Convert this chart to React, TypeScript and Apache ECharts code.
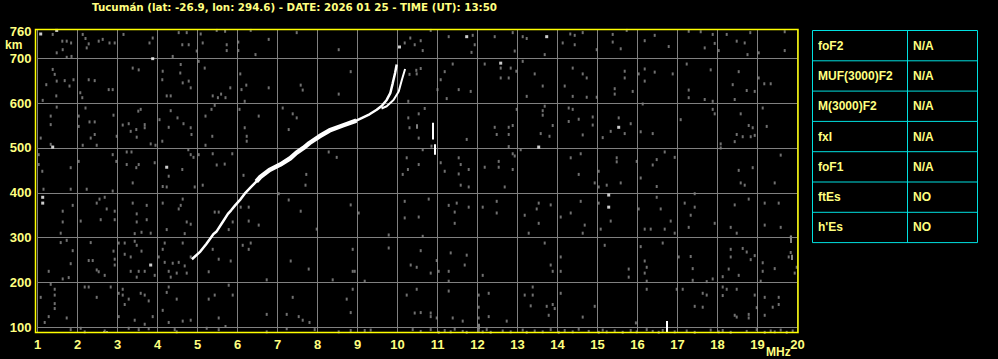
import React, { useEffect, useRef } from "react";
import * as echarts from "echarts";

const TITLE = "Tucumán (lat: -26.9, lon: 294.6) - DATE: 2026 01 25 - TIME (UT): 13:50";
const heightTicks = [100, 200, 300, 400, 500, 600, 700, 760];
const heightGrid = [100, 200, 300, 400, 500, 600, 700];
const tableParams = ["foF2", "MUF(3000)F2", "M(3000)F2", "fxI", "foF1", "ftEs", "h'Es"];
const tableValues = ["N/A", "N/A", "N/A", "N/A", "N/A", "NO", "NO"];

// main ionogram trace [MHz, km]
const traceMain: number[][] = [
  [4.86, 252], [5.07, 269], [5.22, 286], [5.40, 308], [5.47, 313], [5.63, 335], [5.76, 353],
  [5.84, 361], [5.94, 372], [6.08, 386], [6.18, 398], [6.34, 413], [6.47, 425], [6.57, 435],
  [6.80, 451], [7.07, 463], [7.32, 477], [7.47, 489], [7.65, 500], [7.80, 511], [8.05, 526],
  [8.30, 539], [8.63, 550], [8.97, 561], [9.30, 575], [9.48, 585], [9.61, 594], [9.73, 607],
  [9.82, 622], [9.88, 644], [9.94, 667], [9.98, 686],
];
const traceBranch: number[][] = [
  [9.60, 588], [9.73, 593], [9.90, 607], [10.03, 626], [10.11, 652], [10.19, 676],
];
const whiteDots: number[][] = [
  [1.08, 754], [1.48, 762], [10.05, 725], [3.88, 699], [1.38, 502], [4.23, 457], [11.73, 748],
  [13.73, 748], [12.58, 689], [15.53, 546], [13.53, 502], [1.13, 390], [1.13, 377], [3.83, 239],
  [15.28, 395], [15.28, 368],
];
const whiteSegments: number[][][] = [
  [[10.88, 519], [10.88, 556]],
  [[10.93, 485], [10.93, 508]],
  [[16.73, 88], [16.73, 114]],
];
const grayDashes: number[][][] = [
  [[12.02, 96], [12.02, 108]], [[19.83, 288], [19.83, 305]], [[19.85, 250], [19.85, 262]],
  [[10.48, 543], [10.48, 553]], [[2.65, 88], [2.65, 92]], [[2.72, 88], [2.72, 92]],
];
const noise: number[][] = [
  [1.38, 753], [1.62, 738], [1.73, 738], [1.84, 734], [1.48, 712], [1.63, 719], [1.73, 702], [1.85, 704],
  [2.13, 753], [2.20, 744], [2.28, 732], [2.23, 723], [2.53, 738], [2.63, 742], [2.80, 734], [2.93, 734],
  [3.15, 753], [3.88, 745], [3.80, 734], [4.38, 704], [4.53, 757], [4.73, 757], [4.62, 730], [4.78, 730],
  [4.98, 716], [5.08, 754], [5.13, 734], [5.48, 762], [5.69, 760], [5.73, 730], [5.73, 717], [6.02, 736],
  [6.02, 717], [6.33, 762], [6.45, 708], [6.78, 742], [7.48, 757], [8.53, 719], [10.32, 745], [10.43, 730],
  [10.18, 734],
  [1.38, 675], [1.43, 664], [1.48, 649], [1.68, 650], [1.90, 652], [2.28, 652], [2.43, 650], [1.22, 641],
  [1.80, 638], [1.13, 606], [1.47, 616], [2.12, 612], [2.07, 623], [2.78, 630], [2.88, 630], [3.38, 678],
  [3.53, 674], [4.13, 671], [4.12, 652], [4.57, 667], [4.63, 645], [4.78, 649], [4.83, 634], [4.23, 616],
  [4.33, 616], [4.58, 686], [5.03, 693], [5.18, 678], [5.38, 616], [5.51, 612], [5.59, 620], [5.70, 612],
  [5.82, 634], [6.07, 665], [6.22, 640], [6.10, 630], [6.18, 604], [6.78, 634], [7.58, 640], [7.63, 629],
  [8.53, 620], [8.83, 670], [10.30, 664], [10.47, 673], [10.27, 604],
  [1.33, 571], [1.33, 552], [1.08, 522], [1.48, 591], [2.03, 571], [2.03, 548], [2.20, 589], [2.30, 558],
  [2.43, 558], [2.33, 522], [2.43, 530], [2.90, 573], [2.98, 526], [3.13, 551], [3.28, 554], [3.33, 537],
  [3.47, 541], [3.48, 524], [3.52, 582], [3.68, 552], [3.68, 545], [3.58, 586], [4.05, 563], [4.12, 515],
  [4.28, 546], [4.33, 583], [4.50, 567], [4.65, 554], [4.83, 545], [4.85, 530], [5.20, 571], [5.35, 586],
  [5.43, 595], [5.37, 526], [6.05, 586], [6.18, 545], [6.23, 526], [6.23, 515], [6.53, 571], [7.13, 589],
  [7.38, 576], [7.48, 567], [7.28, 541], [10.27, 567], [10.30, 545],
  [1.03, 485], [1.03, 463], [1.12, 448], [1.33, 508], [1.83, 456], [2.03, 470], [2.13, 506], [2.48, 506],
  [2.88, 485], [2.97, 470], [3.23, 491], [3.35, 491], [3.23, 463], [3.47, 456], [3.53, 463], [3.83, 509],
  [3.95, 506], [3.93, 467], [4.28, 437], [4.62, 452], [4.77, 496], [4.83, 485], [4.90, 479], [5.03, 485],
  [5.20, 506], [5.38, 487], [5.48, 462], [5.68, 464], [5.87, 487], [6.15, 439], [7.72, 441], [8.28, 491],
  [8.48, 479], [10.23, 478], [10.26, 452], [10.13, 441],
  [10.83, 762], [10.58, 739], [10.63, 717], [11.28, 748], [11.88, 751], [11.93, 730], [11.85, 713],
  [12.43, 748], [12.88, 757], [12.93, 716], [13.13, 748], [13.23, 744], [13.68, 708], [14.13, 734],
  [14.32, 754], [14.43, 751], [14.43, 730], [14.63, 757], [14.98, 719], [15.38, 753], [15.38, 736],
  [15.73, 762], [15.58, 721], [16.18, 739], [16.43, 751], [16.78, 726], [17.28, 760], [17.58, 759],
  [17.68, 723], [17.88, 753], [17.93, 733], [18.03, 717], [18.23, 753], [18.48, 738], [18.68, 734],
  [18.75, 708], [18.82, 757], [19.03, 712], [19.68, 759], [19.68, 717],
  [10.58, 677], [10.48, 665], [11.18, 670], [11.08, 652], [11.38, 687], [11.53, 630], [11.00, 630],
  [11.23, 610], [11.83, 626], [12.18, 687], [12.58, 678], [12.58, 656], [12.78, 656], [12.83, 678],
  [12.97, 671], [13.13, 693], [13.43, 665], [13.63, 638], [13.23, 615], [14.18, 638], [14.38, 678],
  [14.63, 665], [14.73, 656], [14.38, 615], [14.73, 613], [14.98, 613], [15.43, 632], [15.43, 620],
  [15.68, 671], [15.68, 656], [15.88, 626], [16.03, 665], [16.18, 676], [16.18, 649], [16.43, 669],
  [16.88, 665], [17.23, 687], [17.28, 629], [17.28, 612], [17.83, 674], [17.68, 608], [17.88, 604],
  [18.53, 670], [18.38, 641], [18.73, 628], [18.93, 626], [19.03, 656], [19.33, 643], [19.17, 643],
  [18.43, 608],
  [10.68, 588], [10.53, 576], [10.53, 522], [10.85, 504], [11.73, 519], [12.43, 546], [12.48, 530],
  [12.78, 546], [12.78, 530], [12.88, 550], [12.98, 586], [13.63, 583], [13.68, 593], [13.63, 573],
  [13.88, 550], [13.58, 532], [13.80, 526], [14.28, 589], [14.38, 586], [14.53, 564], [14.28, 559],
  [14.63, 529], [14.88, 569], [14.88, 551], [15.13, 523], [15.33, 537], [15.53, 567], [15.83, 554],
  [15.68, 532], [16.08, 536], [16.38, 532], [16.13, 598], [17.08, 563], [17.88, 586], [17.93, 576],
  [18.58, 576], [18.78, 550], [18.88, 545], [18.48, 530], [18.43, 514], [18.63, 525], [18.83, 525],
  [18.93, 528], [19.23, 548], [19.13, 589],
  [10.53, 463], [10.63, 496], [11.08, 467], [11.18, 448], [11.53, 478], [11.58, 463], [11.78, 452],
  [11.53, 442], [12.18, 457], [12.53, 470], [12.53, 457], [12.78, 503], [12.88, 487], [12.93, 482],
  [13.08, 496], [12.88, 452], [14.33, 478], [14.58, 487], [14.53, 441], [15.03, 448], [15.48, 478],
  [15.48, 469], [15.98, 470], [16.38, 462], [16.48, 474], [16.68, 491], [16.93, 479], [16.08, 433],
  [18.08, 509], [18.08, 500], [18.53, 450], [18.88, 456], [19.58, 484],
  [1.15, 408], [1.83, 408], [2.23, 408], [2.88, 404], [3.38, 422], [4.13, 414], [4.23, 413], [4.93, 413],
  [5.13, 417], [7.70, 417], [2.55, 386], [2.68, 390], [2.48, 377], [1.88, 372], [1.63, 359], [1.63, 335],
  [2.73, 364], [2.93, 359], [2.93, 340], [2.58, 340], [2.08, 337], [1.58, 310], [3.38, 377], [3.48, 353],
  [3.48, 335], [3.73, 340], [3.73, 372], [3.60, 312], [3.43, 309], [3.83, 310], [4.13, 377], [4.63, 386],
  [4.58, 372], [4.53, 364], [4.23, 318], [4.68, 309], [4.73, 335], [4.83, 330], [5.43, 357], [5.53, 357],
  [5.88, 335], [5.78, 318], [6.08, 368], [6.28, 368], [6.28, 337], [6.53, 328], [7.28, 384], [7.58, 359],
  [7.03, 398], [7.98, 319], [8.83, 373], [9.03, 355], [9.78, 306], [10.18, 381], [10.18, 344],
  [1.73, 294], [1.58, 289], [1.88, 271], [2.33, 289], [2.28, 249], [2.38, 249], [1.83, 242], [1.28, 225],
  [1.63, 208], [1.78, 211], [2.48, 228], [2.53, 224], [2.68, 216], [2.90, 270], [2.93, 252], [2.93, 239],
  [3.03, 288], [3.18, 288], [3.18, 263], [3.33, 257], [3.43, 292], [3.48, 283], [3.60, 270], [3.53, 225],
  [3.68, 225], [3.33, 225], [3.48, 212], [3.93, 216], [4.03, 257], [4.18, 288], [4.13, 274], [4.18, 245],
  [4.28, 225], [4.33, 212], [4.38, 243], [4.53, 245], [4.48, 221], [4.63, 288], [4.68, 237], [4.73, 221],
  [4.83, 257], [5.28, 224], [5.38, 274], [5.53, 252], [5.83, 248], [6.13, 283], [6.28, 274], [6.33, 288],
  [6.73, 206], [7.33, 248], [7.78, 230], [8.38, 206], [8.88, 274], [8.88, 225], [8.93, 225], [9.18, 203],
  [9.78, 277], [10.33, 239], [10.48, 234],
  [1.33, 196], [1.43, 185], [1.08, 167], [1.43, 172], [1.43, 153], [1.43, 142], [1.28, 124], [1.18, 111],
  [1.73, 121], [2.18, 190], [2.28, 190], [2.48, 167], [2.83, 190], [3.13, 185], [3.13, 172], [3.18, 151],
  [3.03, 176], [3.28, 163], [3.58, 176], [3.68, 172], [3.78, 159], [3.43, 116], [3.03, 124], [3.68, 107],
  [3.88, 124], [4.13, 138], [4.23, 178], [4.28, 190], [4.48, 163], [4.28, 111], [4.63, 114], [4.83, 116],
  [5.28, 163], [5.43, 172], [5.53, 121], [5.78, 194], [5.88, 172], [5.70, 102], [6.73, 129], [7.23, 129],
  [7.38, 167], [7.53, 124], [7.63, 116], [7.80, 111], [8.73, 163], [8.83, 133], [8.88, 185], [10.23, 172],
  [10.43, 132], [10.48, 185],
  [1.83, 95], [2.08, 98], [2.68, 92], [2.18, 90], [3.28, 98], [3.53, 95], [3.78, 97], [4.43, 95],
  [4.48, 90], [5.23, 98], [5.53, 95], [6.73, 90], [7.23, 97], [7.93, 95], [8.53, 90], [8.83, 93],
  [9.18, 93], [9.33, 94], [10.38, 95],
  [11.58, 417], [11.78, 413], [12.68, 413], [14.93, 422], [15.03, 413], [15.23, 417], [15.58, 422],
  [16.48, 414], [18.58, 422], [18.68, 417], [19.43, 422], [10.78, 386], [11.28, 372], [11.48, 377],
  [11.78, 368], [11.43, 357], [11.43, 332], [12.13, 368], [12.48, 381], [12.48, 355], [13.18, 350],
  [13.53, 377], [13.48, 364], [13.83, 373], [13.53, 332], [13.28, 310], [14.08, 346], [14.33, 355],
  [14.58, 381], [14.68, 328], [14.63, 310], [15.03, 377], [15.08, 319], [15.33, 337], [16.03, 364],
  [16.18, 319], [16.33, 319], [16.48, 390], [16.58, 364], [16.68, 319], [16.83, 337], [16.93, 310],
  [17.18, 377], [17.33, 350], [17.43, 368], [17.43, 398], [17.28, 323], [17.93, 332], [18.33, 323],
  [18.43, 373], [18.48, 310], [18.78, 386], [19.18, 377], [19.18, 328], [19.53, 377], [19.58, 323],
  [19.83, 301], [10.63, 303], [10.53, 346],
  [10.58, 271], [10.83, 221], [10.98, 249], [11.03, 225], [11.28, 225], [11.28, 203], [11.33, 266],
  [11.73, 261], [11.68, 239], [12.13, 216], [13.68, 288], [13.83, 239], [13.88, 225], [14.08, 257],
  [14.08, 225], [15.18, 283], [15.78, 230], [15.78, 212], [16.08, 280], [16.18, 248], [16.23, 234],
  [16.18, 221], [16.23, 203], [16.63, 288], [17.03, 257], [17.33, 258], [17.38, 231], [17.38, 205],
  [17.73, 202], [17.88, 208], [18.33, 274], [18.33, 257], [18.28, 230], [18.13, 213], [18.53, 216],
  [18.63, 276], [18.73, 268], [18.83, 251], [18.93, 260], [19.13, 244], [19.13, 225], [19.08, 203],
  [19.43, 231], [19.78, 257], [19.83, 267], [19.93, 221], [19.98, 234],
  [11.28, 181], [12.03, 172], [12.28, 176], [12.03, 145], [12.03, 121], [12.28, 124], [12.73, 114],
  [13.18, 172], [13.38, 190], [13.38, 172], [13.33, 148], [13.73, 147], [13.88, 151], [13.93, 142],
  [13.78, 127], [14.08, 176], [14.63, 123], [14.93, 147], [15.96, 110], [16.23, 185], [16.98, 185],
  [17.13, 185], [17.43, 147], [17.63, 145], [17.63, 176], [17.73, 172], [18.13, 190], [18.13, 171],
  [18.23, 185], [18.48, 185], [18.43, 127], [18.48, 123], [18.78, 129], [18.78, 121], [18.93, 172],
  [19.18, 167], [19.38, 145], [19.53, 167], [19.53, 151], [19.18, 127], [18.98, 144], [10.83, 132],
  [10.83, 124], [10.98, 121], [11.38, 121], [11.63, 114], [10.58, 133],
  [10.58, 91], [10.83, 95], [11.03, 89], [11.18, 93], [11.33, 90], [11.43, 96], [11.63, 91], [11.73, 89],
  [12.03, 93], [12.13, 90], [12.23, 95], [12.33, 89], [12.63, 92], [12.83, 90], [13.13, 94], [13.23, 89],
  [13.43, 92], [13.63, 90], [13.83, 95], [14.03, 89], [14.18, 93], [14.38, 90], [14.53, 96], [14.78, 91],
  [15.03, 89], [15.13, 94], [15.23, 90], [15.43, 92], [15.63, 89], [15.83, 93], [15.98, 90], [16.23, 95],
  [16.38, 91], [16.53, 89], [16.63, 93], [16.93, 90], [17.23, 92], [17.43, 89], [17.83, 94], [18.03, 90],
  [18.13, 93], [18.33, 89], [18.73, 91], [18.98, 95], [19.18, 89], [19.33, 92], [19.43, 90], [19.58, 94],
  [19.73, 89], [19.88, 92],
];

const PALE = "#ffff80";
const GRAY = "#808080";

export default function App() {
  const ref = useRef<HTMLDivElement>(null);
  useEffect(() => {
    if (!ref.current) return;
    const chart = echarts.init(ref.current, undefined, { renderer: "svg" });
    const tLeft = 812.5, tRight = 977.5, tTop = 30.5, rowH = 30.3, tDiv = 907.5;
    const tableEls: any[] = [
      { type: "rect", shape: { x: tLeft, y: tTop, width: tRight - tLeft, height: rowH * tableParams.length }, style: { fill: "none", stroke: "#00e0e0", lineWidth: 1 } },
      { type: "line", shape: { x1: tDiv, y1: tTop, x2: tDiv, y2: tTop + rowH * tableParams.length }, style: { stroke: "#00e0e0", lineWidth: 1 } },
    ];
    tableParams.forEach((p, i) => {
      if (i > 0) tableEls.push({ type: "line", shape: { x1: tLeft, y1: tTop + rowH * i, x2: tRight, y2: tTop + rowH * i }, style: { stroke: "#00e0e0", lineWidth: 1 } });
      const cy = tTop + rowH * i + rowH / 2;
      tableEls.push({ type: "text", x: 818, y: cy, style: { text: p, fill: PALE, fontSize: 12, fontWeight: "bold", fontFamily: "Liberation Sans", verticalAlign: "middle", align: "left" } });
      tableEls.push({ type: "text", x: 913, y: cy, style: { text: tableValues[i], fill: PALE, fontSize: 12, fontWeight: "bold", fontFamily: "Liberation Sans", verticalAlign: "middle", align: "left" } });
    });
    const option: any = {
      animation: false,
      backgroundColor: "#000000",
      grid: { left: 37.5, top: 29.5, width: 760, height: 303.5, show: false },
      xAxis: {
        type: "value", min: 1, max: 20, interval: 1,
        axisLine: { show: false }, axisTick: { show: false },
        splitLine: { show: true, lineStyle: { color: GRAY, width: 1 } },
        axisLabel: { color: PALE, fontFamily: "Liberation Sans", fontWeight: "bold", fontSize: 13, margin: 5 },
      },
      yAxis: {
        type: "value", min: 87.5, max: 764,
        axisLine: { show: false }, axisTick: { show: false }, splitLine: { show: false },
        axisLabel: { customValues: heightTicks, color: PALE, fontFamily: "Liberation Sans", fontWeight: "bold", fontSize: 13, margin: 6 },
      },
      series: [
        {
          type: "scatter", data: [], z: 1, silent: true,
          markLine: { silent: true, symbol: ["none", "none"], label: { show: false }, lineStyle: { color: GRAY, type: "solid", width: 1 }, data: heightGrid.map((v) => ({ yAxis: v })) },
        },
        { type: "scatter", data: noise, symbol: "rect", symbolSize: [2, 3], itemStyle: { color: "#8c8c8c" }, z: 2, silent: true },
        { type: "lines", coordinateSystem: "cartesian2d", data: grayDashes.map((c) => ({ coords: c })), lineStyle: { color: GRAY, width: 2, opacity: 1 }, z: 2, silent: true },
        { type: "line", data: traceMain, showSymbol: false, lineStyle: { color: "#ffffff", width: 2.5 }, z: 5, silent: true },
        { type: "line", data: traceMain.filter((d) => d[0] >= 6.45 && d[0] <= 9.0), showSymbol: false, lineStyle: { color: "#ffffff", width: 4.5 }, z: 5, silent: true },
        { type: "line", data: traceBranch, showSymbol: false, lineStyle: { color: "#ffffff", width: 2 }, z: 5, silent: true },
        { type: "scatter", data: whiteDots, symbol: "rect", symbolSize: [3, 3], itemStyle: { color: "#ffffff" }, z: 5, silent: true },
        { type: "lines", coordinateSystem: "cartesian2d", data: whiteSegments.map((c) => ({ coords: c })), lineStyle: { color: "#ffffff", width: 2, opacity: 1 }, z: 5, silent: true },
      ],
      graphic: [
        { type: "text", x: 92, y: 6.5, style: { text: TITLE, fill: PALE, fontSize: 10.3, fontWeight: "bold", fontFamily: "DejaVu Sans", verticalAlign: "middle", align: "left" } },
        { type: "rect", z: 100, shape: { x: 35.5, y: 29.5, width: 762.5, height: 303 }, style: { fill: "none", stroke: "#ffff00", lineWidth: 1.5 } },
        { type: "text", x: 5, y: 45, style: { text: "km", fill: PALE, fontSize: 12, fontWeight: "bold", fontFamily: "Liberation Sans", verticalAlign: "middle", align: "left" } },
        { type: "text", x: 766, y: 352, style: { text: "MHz", fill: PALE, fontSize: 12, fontWeight: "bold", fontFamily: "Liberation Sans", verticalAlign: "middle", align: "left" } },
        ...tableEls,
      ],
    };
    chart.setOption(option);
    return () => chart.dispose();
  }, []);
  return <div ref={ref} style={{ position: "absolute", left: 0, top: 0, width: 998, height: 359, background: "#000" }} />;
}
